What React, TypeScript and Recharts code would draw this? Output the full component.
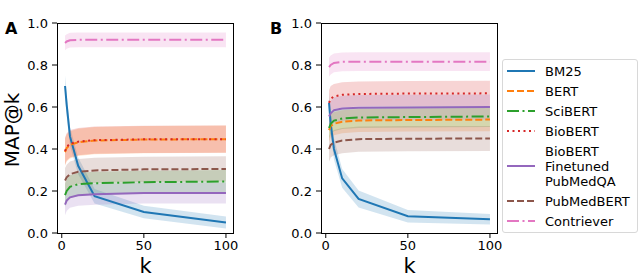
import React from 'react';
import { ComposedChart, Line, Area, XAxis, YAxis } from 'recharts';

const FONT = '"DejaVu Sans", sans-serif';

const K_VALUES = [2, 3, 5, 10, 20, 50, 100];
const X_TICKS = [0, 50, 100];
const Y_TICKS = [0, 0.2, 0.4, 0.6, 0.8, 1.0];

const MODELS = ['BM25', 'BERT', 'SciBERT', 'BioBERT', 'BioBERT Finetuned PubMedQA', 'PubMedBERT', 'Contriever'];

// panel A
const aBm25 = [0.70, 0.61, 0.46, 0.32, 0.175, 0.10, 0.05];
const aBm25Err = [0.05, 0.05, 0.045, 0.04, 0.035, 0.03, 0.028];
const aBert = [0.385, 0.405, 0.42, 0.432, 0.44, 0.445, 0.447];
const aBertErr = [0.065, 0.065, 0.065, 0.065, 0.065, 0.065, 0.065];
const aSci = [0.18, 0.20, 0.22, 0.232, 0.237, 0.242, 0.245];
const aSciErr = [0.055, 0.055, 0.055, 0.055, 0.055, 0.055, 0.055];
const aBio = [0.39, 0.41, 0.425, 0.435, 0.442, 0.446, 0.447];
const aBioErr = [0.065, 0.065, 0.065, 0.065, 0.065, 0.065, 0.065];
const aFt = [0.135, 0.155, 0.17, 0.18, 0.185, 0.19, 0.19];
const aFtErr = [0.05, 0.05, 0.05, 0.05, 0.05, 0.05, 0.05];
const aPmb = [0.25, 0.265, 0.28, 0.292, 0.298, 0.303, 0.305];
const aPmbErr = [0.06, 0.06, 0.06, 0.06, 0.06, 0.06, 0.06];
const aCon = [0.905, 0.912, 0.918, 0.92, 0.92, 0.92, 0.92];
const aConErr = [0.035, 0.035, 0.035, 0.035, 0.035, 0.035, 0.035];

// panel B
const bBm25 = [0.62, 0.52, 0.40, 0.26, 0.162, 0.08, 0.065];
const bBm25Err = [0.05, 0.05, 0.05, 0.045, 0.04, 0.03, 0.025];
const bBert = [0.49, 0.51, 0.52, 0.53, 0.536, 0.538, 0.54];
const bBertErr = [0.055, 0.055, 0.055, 0.055, 0.055, 0.055, 0.055];
const bSci = [0.50, 0.52, 0.535, 0.545, 0.55, 0.552, 0.555];
const bSciErr = [0.05, 0.05, 0.05, 0.05, 0.05, 0.05, 0.05];
const bBio = [0.62, 0.64, 0.65, 0.658, 0.662, 0.664, 0.665];
const bBioErr = [0.06, 0.06, 0.06, 0.06, 0.06, 0.06, 0.06];
const bFt = [0.555, 0.57, 0.585, 0.593, 0.597, 0.598, 0.6];
const bFtErr = [0.06, 0.06, 0.06, 0.06, 0.06, 0.06, 0.06];
const bPmb = [0.40, 0.42, 0.43, 0.44, 0.447, 0.449, 0.45];
const bPmbErr = [0.06, 0.06, 0.06, 0.06, 0.06, 0.06, 0.06];
const bCon = [0.79, 0.80, 0.81, 0.815, 0.816, 0.816, 0.816];
const bConErr = [0.045, 0.045, 0.045, 0.045, 0.045, 0.045, 0.045];

const STYLES = [
  { color: '#1f77b4', dash: undefined },
  { color: '#ff7f0e', dash: '7 3' },
  { color: '#2ca02c', dash: '12 3.5 2 3.5' },
  { color: '#d62728', dash: '2 3.5' },
  { color: '#9467bd', dash: undefined },
  { color: '#8c564b', dash: '7 3' },
  { color: '#e377c2', dash: '12 3.5 2 3.5' },
];

function buildRows(series: number[][], errs: number[][]) {
  return K_VALUES.map((k, i) => {
    const row: Record<string, any> = { k };
    series.forEach((s, j) => {
      row['m' + j] = s[i];
      row['b' + j] = [s[i] - errs[j][i], s[i] + errs[j][i]];
    });
    return row;
  });
}

const rowsA = buildRows(
  [aBm25, aBert, aSci, aBio, aFt, aPmb, aCon],
  [aBm25Err, aBertErr, aSciErr, aBioErr, aFtErr, aPmbErr, aConErr]
);
const rowsB = buildRows(
  [bBm25, bBert, bSci, bBio, bFt, bPmb, bCon],
  [bBm25Err, bBertErr, bSciErr, bBioErr, bFtErr, bPmbErr, bConErr]
);

const tick = { fontSize: 13, fill: '#000', fontFamily: FONT };

function Panel({ rows, left, plotWidth }: { rows: any[]; left: number; plotWidth: number }) {
  const width = 57 + plotWidth + 6;
  return (
    <div style={{ position: 'absolute', left, top: 0 }}>
      <ComposedChart width={width} height={277} data={rows} margin={{ top: 23, right: 6, bottom: 14, left: 0 }}>
        <XAxis
          dataKey="k"
          type="number"
          domain={[-2.9, 104.9]}
          ticks={X_TICKS}
          tick={tick}
          tickSize={5}
          tickMargin={3}
          height={30}
          stroke="#000"
          axisLine={false}
          allowDataOverflow
        />
        <YAxis
          type="number"
          domain={[0, 1]}
          ticks={Y_TICKS}
          tickFormatter={(v: number) => v.toFixed(1)}
          tick={tick}
          tickSize={5}
          tickMargin={4}
          width={57}
          stroke="#000"
          axisLine={false}
        />
        {STYLES.map((s, j) => (
          <Area
            key={'b' + j}
            dataKey={'b' + j}
            type="linear"
            stroke="none"
            fill={s.color}
            fillOpacity={0.2}
            isAnimationActive={false}
            dot={false}
            activeDot={false}
          />
        ))}
        {STYLES.map((s, j) => (
          <Line
            key={'m' + j}
            dataKey={'m' + j}
            type="linear"
            stroke={s.color}
            strokeWidth={2}
            strokeDasharray={s.dash}
            dot={false}
            activeDot={false}
            isAnimationActive={false}
          />
        ))}
      </ComposedChart>
      <div
        style={{
          position: 'absolute',
          left: 57,
          top: 23,
          width: plotWidth,
          height: 211,
          border: '1px solid #000',
          boxSizing: 'border-box',
          pointerEvents: 'none',
        }}
      />
      <div
        style={{
          position: 'absolute',
          left: 57,
          top: 256,
          width: plotWidth,
          textAlign: 'center',
          fontFamily: FONT,
          fontSize: 21,
          lineHeight: '20px',
        }}
      >
        k
      </div>
    </div>
  );
}

function LegendBox() {
  const rowY = [70, 90, 110, 130, 165, 200, 220];
  return (
    <div
      style={{
        position: 'absolute',
        left: 502,
        top: 59,
        width: 136,
        height: 174,
        border: '1px solid #d8d8d8',
        borderRadius: 3,
        boxSizing: 'border-box',
        fontFamily: FONT,
        fontSize: 13,
      }}
    >
      {MODELS.map((name, j) => {
        const y = rowY[j] - 59;
        const lines = j === 4 ? ['BioBERT', 'Finetuned', 'PubMedQA'] : [name];
        return (
          <React.Fragment key={name}>
            <svg style={{ position: 'absolute', left: 3, top: y - 5 }} width={30} height={10}>
              <line
                x1={1}
                x2={29}
                y1={5}
                y2={5}
                stroke={STYLES[j].color}
                strokeWidth={2}
                strokeDasharray={STYLES[j].dash}
              />
            </svg>
            <div
              style={{
                position: 'absolute',
                left: 42,
                top: y - (lines.length * 15) / 2,
                lineHeight: '15px',
                whiteSpace: 'nowrap',
              }}
            >
              {lines.map((l) => (
                <div key={l}>{l}</div>
              ))}
            </div>
          </React.Fragment>
        );
      })}
    </div>
  );
}

export default function App() {
  return (
    <div
      style={{
        position: 'absolute',
        left: 0,
        top: 0,
        width: 640,
        height: 277,
        background: '#fff',
        overflow: 'hidden',
        fontFamily: FONT,
      }}
    >
      <Panel rows={rowsA} left={0} plotWidth={177} />
      <Panel rows={rowsB} left={264} plotWidth={177} />
      <svg style={{ position: 'absolute', left: 0, top: 0 }} width={60} height={277}>
        <text
          transform="translate(19,130) rotate(-90)"
          textAnchor="middle"
          fontFamily={FONT}
          fontSize={20}
        >
          MAP@k
        </text>
      </svg>
      <div style={{ position: 'absolute', left: 5, top: 19, fontFamily: FONT, fontWeight: 'bold', fontSize: 16 }}>A</div>
      <div style={{ position: 'absolute', left: 270, top: 19, fontFamily: FONT, fontWeight: 'bold', fontSize: 16 }}>B</div>
      <LegendBox />
    </div>
  );
}
